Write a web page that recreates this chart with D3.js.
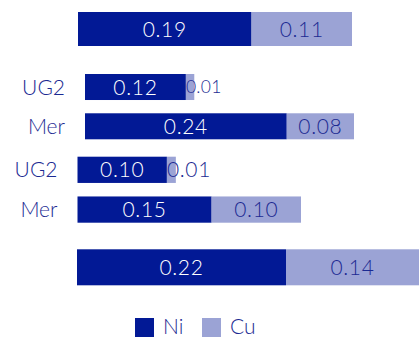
<!DOCTYPE html>
<html>
<head>
<meta charset="utf-8">
<script src="https://cdn.jsdelivr.net/npm/d3@7"></script>
<style>
  html, body { margin: 0; padding: 0; background: #ffffff; }
  svg { display: block; font-family: "Lato", "Open Sans", sans-serif; font-weight: 300; }
</style>
</head>
<body>
<svg id="chart" width="419" height="337"></svg>
<script>
// ---- data ----
const rowLabels = ["", "UG2", "Mer", "UG2", "Mer", ""];
const rowPanel  = [0, 1, 1, 2, 2, 3];
const niValues  = [0.19, 0.12, 0.24, 0.10, 0.15, 0.22];
const cuValues  = [0.11, 0.01, 0.08, 0.01, 0.10, 0.14];
const seriesNames = ["Ni", "Cu"];

// ---- layout (positions / styles) ----
const colors = { Ni: "#021995", Cu: "#9ba3d5" };
const textColors = { Ni: "#ffffff", Cu: "#1b2a92" };
const panels = [
  { xDomain: [0, 0.30], xRange: [78, 352],   yRange: [12, 46],     pad: 0 },
  { xDomain: [0, 0.32], xRange: [85, 354],   yRange: [74, 139.3],  pad: 0.338 },
  { xDomain: [0, 0.25], xRange: [77.5, 301], yRange: [156.7, 222.7], pad: 0.34 },
  { xDomain: [0, 0.36], xRange: [77, 419],   yRange: [249.3, 285.3], pad: 0 }
];

const svg = d3.select("#chart");

panels.forEach((p, pi) => {
  const rows = d3.range(rowLabels.length).filter(i => rowPanel[i] === pi);
  p.x = d3.scaleLinear().domain(p.xDomain).range(p.xRange);
  p.y = d3.scaleBand().domain(rows).range(p.yRange).paddingInner(p.pad).paddingOuter(0);
});

const rows = d3.range(rowLabels.length).map(i => {
  const p = panels[rowPanel[i]];
  const stack = [
    { key: "Ni", v0: 0, v1: niValues[i], v: niValues[i] },
    { key: "Cu", v0: niValues[i], v1: niValues[i] + cuValues[i], v: cuValues[i] }
  ];
  return { i, p, label: rowLabels[i], stack };
});

const g = svg.selectAll("g.row").data(rows).join("g").attr("class", "row");

g.each(function(r) {
  const sel = d3.select(this);
  const x = r.p.x, y = r.p.y;
  const y0 = y(r.i), bh = y.bandwidth();
  sel.selectAll("rect").data(r.stack).join("rect")
    .attr("x", d => x(d.v0))
    .attr("y", y0)
    .attr("width", d => x(d.v1) - x(d.v0))
    .attr("height", bh)
    .attr("fill", d => colors[d.key]);

  sel.selectAll("text.val").data(r.stack).join("text")
    .attr("class", "val")
    .each(function(d) {
      const w = x(d.v1) - x(d.v0);
      const small = w < 30;
      d3.select(this)
        .attr("x", small ? x(d.v0) : (x(d.v0) + x(d.v1)) / 2)
        .attr("text-anchor", small ? "start" : "middle")
        .attr("font-size", small && rowPanel[r.i] === 1 ? 17.5 : 21)
        .attr("letter-spacing", small && rowPanel[r.i] === 1 ? 0.3 : 0.7)
        .attr("fill", textColors[d.key]);
    })
    .attr("y", y0 + bh / 2)
    .attr("dy", "0.36em")
    .text(d => d3.format(".2f")(d.v));

  if (r.label) {
    sel.append("text")
      .attr("x", x.range()[0] - 20)
      .attr("y", y0 + bh / 2)
      .attr("dy", "0.36em")
      .attr("text-anchor", "end")
      .attr("font-size", 21)
      .attr("fill", "#1b2a92")
      .text(r.label);
  }
});

// ---- legend ----
const legendX = d3.scalePoint().domain(seriesNames).range([135, 202]);
const lg = svg.selectAll("g.legend").data(seriesNames).join("g").attr("class", "legend")
  .attr("transform", d => `translate(${legendX(d)},318)`);
lg.append("rect").attr("width", 19).attr("height", 19).attr("fill", d => colors[d]);
lg.append("text").attr("x", 28).attr("y", 16).attr("font-size", 21)
  .attr("fill", "#1b2a92").text(d => d);
</script>
</body>
</html>
